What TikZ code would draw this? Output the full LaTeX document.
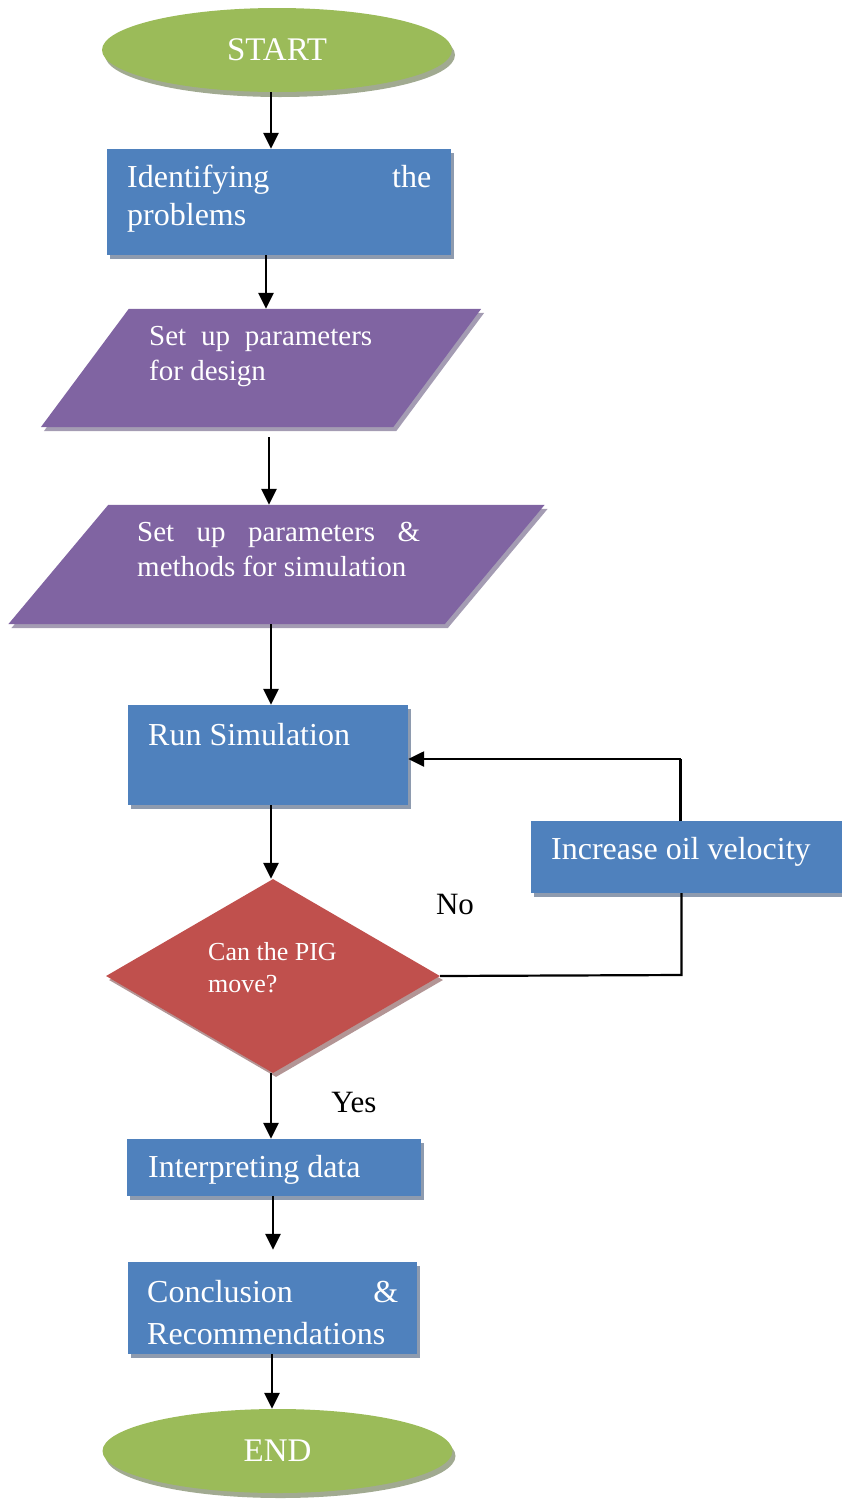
\documentclass[tikz,border=0pt]{standalone}
\usepackage{fontspec}
\setmainfont{Liberation Serif}
\usetikzlibrary{shapes.geometric,arrows.meta,shadows,calc}
\definecolor{cgreen}{HTML}{9BBB59}
\definecolor{cgreensh}{HTML}{A1AA91}
\definecolor{cblue}{HTML}{4F81BD}
\definecolor{cbluesh}{HTML}{8E9BAF}
\definecolor{cpurple}{HTML}{8064A2}
\definecolor{cpurplesh}{HTML}{A49CB3}
\definecolor{cred}{HTML}{C0504D}
\definecolor{credsh}{HTML}{B39595}
\begin{document}
\begin{tikzpicture}[x=1pt,y=-1pt,
  sh/.style={general shadow={fill=#1, shadow xshift=3pt, shadow yshift=-4pt}},
  term/.style={ellipse, fill=cgreen, minimum width=350pt, minimum height=84pt, inner sep=0pt, text=white, font=\fontsize{33}{38}\selectfont, general shadow={fill=cgreensh, shadow xshift=3pt, shadow yshift=-5pt}},
  proc/.style={rectangle, fill=cblue, inner sep=0pt, sh=cbluesh},
  slot/.style={rectangle, inner sep=0pt},
  dec/.style={diamond, aspect=1.72, fill=cred, inner sep=0pt, minimum width=334pt, minimum height=194pt, sh=credsh},
  txt/.style={text=white, inner sep=0pt, anchor=west, align=left, font=\fontsize{32}{38}\selectfont},
  ptxt/.style={txt, font=\fontsize{29}{35}\selectfont},
  dtxt/.style={txt, font=\fontsize{26}{32}\selectfont},
  lbl/.style={text=black, inner sep=0pt, font=\fontsize{31}{36}\selectfont},
  arr/.style={line width=2.5pt, -{Triangle[width=15pt,length=16pt]}},
  lin/.style={line width=2.2pt},
]
\useasboundingbox (0,0) rectangle (842,1500);

% terminals
\node[term] (start) at (277,50) {START};
\node[term] (end) at (277.5,1451) {END};

% box 1
\node[proc, minimum width=344pt, minimum height=106pt] (b1) at (279,202) {};
\node[txt] (b1t) at (127,199) {\makebox[304pt][s]{Identifying the}\\problems};

% parallelogram 1
\node[slot, minimum width=352pt, minimum height=118pt] (p1) at (261,368) {};
\fill[cpurplesh] ($(p1.north west)+(47,4)$) -- ($(p1.north east)+(47,4)$) -- ($(p1.south east)+(-41,4)$) -- ($(p1.south west)+(-41,4)$) -- cycle;
\fill[cpurple] ($(p1.north west)+(44,0)$) -- ($(p1.north east)+(44,0)$) -- ($(p1.south east)+(-44,0)$) -- ($(p1.south west)+(-44,0)$) -- cycle;
\node[ptxt] (p1t) at (149,357) {\makebox[223pt][s]{Set up parameters}\\for design};

% parallelogram 2
\node[slot, minimum width=436pt, minimum height=119pt] (p2) at (276.5,564.5) {};
\fill[cpurplesh] ($(p2.north west)+(53,4)$) -- ($(p2.north east)+(53,4)$) -- ($(p2.south east)+(-47,4)$) -- ($(p2.south west)+(-47,4)$) -- cycle;
\fill[cpurple] ($(p2.north west)+(50,0)$) -- ($(p2.north east)+(50,0)$) -- ($(p2.south east)+(-50,0)$) -- ($(p2.south west)+(-50,0)$) -- cycle;
\node[ptxt] (p2t) at (137,549) {\makebox[283pt][s]{Set up parameters \&}\\methods for simulation};

% run simulation
\node[proc, minimum width=280pt, minimum height=100pt] (run) at (268,755) {};
\node[txt] (runt) at (148,735) {Run Simulation};

% decision
\node[dec] (dia) at (273,976) {};
\node[dtxt] (diat) at (208,968) {Can the PIG\\move?};

% increase oil velocity
\node[proc, minimum width=311pt, minimum height=72pt] (inc) at (686.5,857) {};
\node[txt] (inct) at (551,852) {Increase oil velocity};

% interpreting
\node[proc, minimum width=294pt, minimum height=57pt] (interp) at (274,1167.5) {};
\node[txt] (interpt) at (148,1170) {Interpreting data};

% conclusion
\node[proc, minimum width=289pt, minimum height=92pt] (concl) at (272.5,1308) {};
\node[txt, font=\fontsize{32}{42}\selectfont] (conclt) at (147,1313) {\makebox[251pt][s]{Conclusion \&}\\Recommendations};

% labels
\node[lbl] (no) at (455,904) {No};
\node[lbl] (yes) at (354,1102) {Yes};

% connectors
\draw[arr] ([xshift=-6pt]start.south) -- ([xshift=-8pt]b1.north);
\draw[arr] ([xshift=-13pt]b1.south) -- ([xshift=5pt]p1.north);
\draw[arr] ([xshift=8pt,yshift=-10pt]p1.south) -- ([xshift=-7.5pt]p2.north);
\draw[arr] ([xshift=-5.5pt]p2.south) -- ([xshift=3pt]run.north);
\draw[arr] ([xshift=3pt]run.south) -- ([xshift=-2pt]dia.north);
\draw[arr] ([xshift=-2pt]dia.south) -- ([xshift=-3pt]interp.north);
\draw[arr] ([xshift=-1pt]interp.south) -- ([xshift=0.5pt,yshift=12pt]concl.north);
\draw[arr] ([xshift=-0.5pt]concl.south) -- ([xshift=-5.5pt]end.north);

\coordinate (lb) at (681.5,975);
\coordinate (lt) at (680.5,759);
\draw[lin] (dia.east) -- (lb) -- ([xshift=-5pt]inc.south);
\draw[lin] ([xshift=-6pt]inc.north) -- (lt);
\draw[arr] (lt) -- (run.east |- lt);
\end{tikzpicture}
\end{document}
